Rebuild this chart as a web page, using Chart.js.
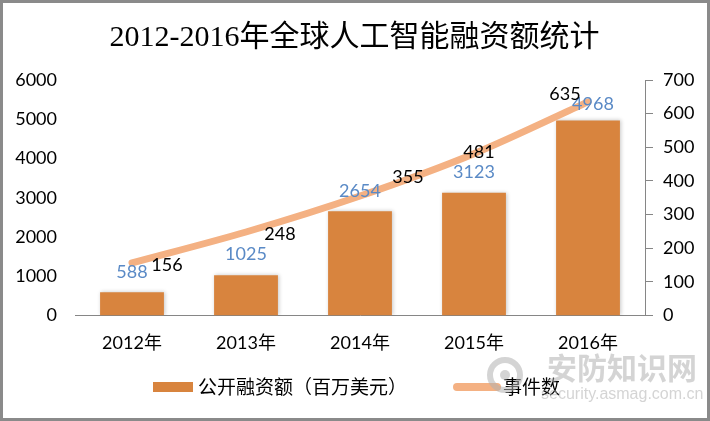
<!DOCTYPE html>
<html>
<head>
<meta charset="utf-8">
<script src="https://cdn.jsdelivr.net/npm/chart.js@4.4.1/dist/chart.umd.min.js"></script>
<style>
  html, body { margin: 0; padding: 0; background: #fff; }
  #wrap { width: 710px; height: 421px; }
</style>
</head>
<body>
<div id="wrap"><canvas id="fundChart" width="710" height="421"></canvas></div>
<script>
// data
const years = ['2012年', '2013年', '2014年', '2015年', '2016年'];
const funding = [588, 1025, 2654, 3123, 4968];   // 公开融资额（百万美元）
const events = [156, 248, 355, 481, 635];         // 事件数
const leftTicks = [0, 1000, 2000, 3000, 4000, 5000, 6000];
const rightTicks = [0, 100, 200, 300, 400, 500, 600, 700];

const barColor = '#D8843E';
const lineColor = '#F4B183';
const barLabelColor = '#5A8AC6';
const latoCjk = '"Lato", "Noto Sans CJK SC", sans-serif';

// hand-placed label nudges, like the original Excel chart
const lineLabelShift = [[35, 2], [34, 2], [48, -19], [5, -1], [-23, -8]];
const barLabelShift = [[0, -20], [0, -21], [0, -20], [0, -21], [5, -16]];

const framePlugin = {
    id: 'frame',
    beforeDraw(chart) {
        const ctx = chart.ctx;
        ctx.save();
        ctx.fillStyle = '#fff';
        ctx.fillRect(0, 0, chart.width, chart.height);
        ctx.restore();
    },
    beforeDatasetDraw(chart, args) {
        if (args.meta.type === 'bar') {
            const ctx = chart.ctx;
            ctx.save();
            ctx.shadowColor = 'rgba(0,0,0,0.22)';
            ctx.shadowBlur = 4;
            ctx.shadowOffsetX = 1;
        }
    },
    afterDatasetDraw(chart, args) {
        if (args.meta.type === 'bar') chart.ctx.restore();
    },
    afterDatasetsDraw(chart) {
        const ctx = chart.ctx;
        ctx.save();
        ctx.font = '18px ' + latoCjk;
        ctx.textAlign = 'center';
        ctx.textBaseline = 'middle';
        const barMeta = chart.getDatasetMeta(1);
        barMeta.data.forEach((el, i) => {
            ctx.fillStyle = barLabelColor;
            ctx.fillText(String(funding[i]), el.x + barLabelShift[i][0], el.y + barLabelShift[i][1]);
        });
        const lineMeta = chart.getDatasetMeta(0);
        lineMeta.data.forEach((el, i) => {
            ctx.fillStyle = '#000';
            ctx.fillText(String(events[i]), el.x + lineLabelShift[i][0], el.y + lineLabelShift[i][1]);
        });
        ctx.restore();
    },
    afterDraw(chart) {
        const ctx = chart.ctx;
        ctx.save();
        // legend
        const ly = 387;
        ctx.fillStyle = barColor;
        ctx.fillRect(153, ly - 5, 40, 10);
        ctx.strokeStyle = lineColor;
        ctx.lineWidth = 8;
        ctx.lineCap = 'round';
        ctx.beginPath();
        ctx.moveTo(457, ly);
        ctx.lineTo(497, ly);
        ctx.stroke();
        ctx.fillStyle = '#000';
        ctx.font = '19px "Noto Sans CJK SC", sans-serif';
        ctx.textBaseline = 'middle';
        ctx.textAlign = 'left';
        ctx.fillText('公开融资额（百万美元）', 198, ly);
        ctx.fillText('事件数', 503, ly);

        // watermark
        ctx.globalAlpha = 0.55;
        ctx.strokeStyle = '#b0b0b0';
        ctx.lineWidth = 6;
        ctx.beginPath();
        ctx.arc(505, 375, 15, 0, Math.PI * 2);
        ctx.stroke();
        ctx.fillStyle = '#b0b0b0';
        ctx.beginPath();
        ctx.arc(505, 375, 5, 0, Math.PI * 2);
        ctx.fill();
        ctx.font = 'bold 30px "Noto Sans CJK SC", sans-serif';
        ctx.fillText('安防知识网', 547, 368);
        ctx.font = '16px "Liberation Sans", sans-serif';
        ctx.fillText('security.asmag.com.cn', 541, 395);
        ctx.globalAlpha = 1;

        // grey frame
        ctx.strokeStyle = '#8a8a8a';
        ctx.lineWidth = 3;
        ctx.strokeRect(1.5, 1.5, chart.width - 3, chart.height - 3);
        ctx.restore();
    }
};

const ctx = document.getElementById('fundChart').getContext('2d');
new Chart(ctx, {
    type: 'bar',
    data: {
        labels: years,
        datasets: [
            {
                type: 'line',
                label: '事件数',
                data: events,
                yAxisID: 'y1',
                borderColor: lineColor,
                backgroundColor: lineColor,
                borderWidth: 7,
                borderCapStyle: 'round',
                pointRadius: 0,
                tension: 0.3,
                order: 0
            },
            {
                label: '公开融资额（百万美元）',
                data: funding,
                yAxisID: 'y',
                backgroundColor: barColor,
                barPercentage: 0.56,
                categoryPercentage: 1,
                order: 1
            }
        ]
    },
    options: {
        responsive: false,
        animation: false,
        layout: { padding: { left: 5, right: 6, top: 0, bottom: 50 } },
        plugins: {
            legend: { display: false },
            tooltip: { enabled: false },
            title: {
                display: true,
                text: '2012-2016年全球人工智能融资额统计',
                color: '#000',
                font: { family: '"Liberation Serif", "Noto Sans CJK SC", serif', size: 30, weight: 'normal' },
                padding: { top: 20, bottom: 24 }
            }
        },
        scales: {
            x: {
                grid: { display: false, drawTicks: false },
                border: { display: true, color: '#868686', width: 1 },
                ticks: { color: '#000', font: { family: latoCjk, size: 18 }, padding: 17 }
            },
            y: {
                position: 'left',
                min: 0,
                max: 6000,
                afterBuildTicks: axis => { axis.ticks = leftTicks.map(v => ({ value: v })); },
                afterFit: axis => { axis.width = 70; },
                grid: { display: false, drawTicks: false },
                border: { display: false },
                ticks: { color: '#000', font: { family: latoCjk, size: 18 }, padding: 18, callback: v => String(v) }
            },
            y1: {
                position: 'right',
                min: 0,
                max: 700,
                afterBuildTicks: axis => { axis.ticks = rightTicks.map(v => ({ value: v })); },
                afterFit: axis => { axis.width = 59; },
                grid: { display: true, drawOnChartArea: false, drawTicks: true, tickLength: 8, color: '#868686' },
                border: { display: true, color: '#868686', width: 1 },
                ticks: { color: '#000', font: { family: latoCjk, size: 18 }, padding: 10, callback: v => String(v) }
            }
        }
    },
    plugins: [framePlugin]
});
</script>
</body>
</html>
